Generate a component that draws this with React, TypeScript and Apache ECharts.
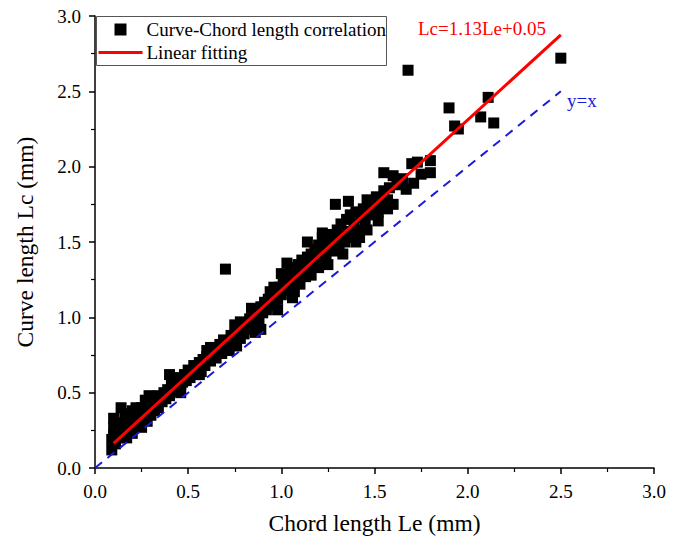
import React, { useEffect, useRef } from "react";
import * as echarts from "echarts";

const scatterPoints: [number, number][] = [
  [0.09,0.12],[0.09,0.19],[0.10,0.22],[0.10,0.27],[0.10,0.33],[0.11,0.16],[0.12,0.24],[0.13,0.20],[0.14,0.29],[0.14,0.40],
  [0.15,0.22],[0.16,0.33],[0.16,0.27],[0.17,0.20],[0.18,0.36],[0.18,0.30],[0.19,0.25],[0.20,0.38],[0.20,0.23],[0.21,0.31],
  [0.22,0.28],[0.23,0.35],[0.24,0.30],[0.25,0.40],[0.25,0.27],[0.26,0.34],[0.27,0.45],[0.28,0.38],[0.28,0.31],[0.29,0.48],
  [0.30,0.42],[0.30,0.35],[0.31,0.46],[0.32,0.38],[0.33,0.43],[0.34,0.40],[0.35,0.47],[0.36,0.44],[0.37,0.50],[0.38,0.46],
  [0.39,0.52],[0.40,0.62],[0.40,0.48],[0.41,0.55],[0.42,0.51],[0.43,0.58],[0.44,0.53],[0.45,0.60],[0.46,0.55],[0.47,0.57],
  [0.48,0.62],[0.49,0.58],[0.50,0.65],[0.51,0.60],[0.52,0.63],[0.53,0.68],[0.54,0.62],[0.55,0.66],[0.56,0.70],[0.57,0.64],
  [0.58,0.72],[0.59,0.68],[0.60,0.74],[0.60,0.78],[0.61,0.77],[0.62,0.71],[0.63,0.75],[0.64,0.80],[0.65,0.73],[0.66,0.78],
  [0.67,0.82],[0.68,0.76],[0.69,0.85],[0.70,0.80],[0.70,1.32],[0.71,0.84],[0.72,0.78],[0.73,0.88],[0.74,0.83],[0.75,0.95],
  [0.75,0.87],[0.76,0.81],[0.77,0.90],[0.78,0.86],[0.79,0.93],[0.80,0.89],[0.81,0.96],[0.82,0.92],[0.83,0.99],[0.84,1.06],
  [0.84,0.94],[0.85,1.00],[0.86,0.97],[0.87,1.03],[0.88,0.99],[0.89,1.07],[0.89,0.92],[0.90,1.03],[0.91,1.10],[0.92,1.05],
  [0.93,1.12],[0.94,1.17],[0.94,1.08],[0.95,1.14],[0.96,1.10],[0.97,1.18],[0.98,1.12],[0.98,1.05],[0.99,1.20],[1.00,1.29],
  [1.00,1.15],[1.01,1.22],[1.02,1.18],[1.03,1.36],[1.03,1.25],[1.04,1.20],[1.05,1.30],[1.06,1.24],[1.07,1.17],[1.07,1.33],
  [1.08,1.27],[1.09,1.35],[1.10,1.22],[1.10,1.30],[1.11,1.38],[1.12,1.33],[1.13,1.27],[1.14,1.50],[1.14,1.40],[1.15,1.34],
  [1.16,1.42],[1.17,1.37],[1.18,1.45],[1.19,1.40],[1.20,1.33],[1.20,1.48],[1.21,1.43],[1.22,1.56],[1.23,1.46],[1.24,1.40],
  [1.25,1.52],[1.25,1.35],[1.26,1.48],[1.27,1.55],[1.28,1.44],[1.29,1.75],[1.29,1.52],[1.30,1.58],[1.31,1.47],[1.32,1.62],
  [1.33,1.54],[1.34,1.50],[1.35,1.65],[1.36,1.77],[1.36,1.57],[1.37,1.68],[1.38,1.53],[1.39,1.62],[1.40,1.70],[1.41,1.58],
  [1.42,1.53],[1.43,1.66],[1.44,1.72],[1.45,1.62],[1.46,1.78],[1.47,1.68],[1.48,1.74],[1.50,1.70],[1.51,1.80],[1.52,1.64],
  [1.53,1.76],[1.55,1.96],[1.55,1.84],[1.57,1.78],[1.58,1.86],[1.60,1.94],[1.60,1.75],[1.62,1.88],[1.65,1.92],[1.67,1.85],
  [1.68,2.64],[1.70,2.02],[1.71,1.89],[1.73,2.03],[1.75,1.95],[1.80,2.04],[1.80,1.96],
  [1.90,2.39],[1.93,2.27],[1.95,2.25],[2.07,2.33],[2.11,2.46],[2.14,2.29],[2.50,2.72],
  [0.12,0.30],[0.22,0.40],[0.34,0.48],[0.46,0.50],[0.56,0.62],[0.62,0.80],[0.78,0.97],[0.86,0.90],[0.96,1.20],
  [1.06,1.13],[1.16,1.28],[1.22,1.53],[1.33,1.42],[1.40,1.50],[1.46,1.58],[1.52,1.70],[1.57,1.72]
];

const fitLine: [number, number][] = [[0.1, 0.163], [2.5, 2.875]];
const identityLine: [number, number][] = [[0, 0], [2.5, 2.5]];
const axisTicks = [0, 0.5, 1.0, 1.5, 2.0, 2.5, 3.0];

const seriesNames = ["Curve-Chord length correlation", "Linear fitting"];
const fitLabel = "Lc=1.13Le+0.05";
const identityLabel = "y=x";
const xTitle = "Chord length Le (mm)";
const yTitle = "Curve length Lc (mm)";

const FONT = "Liberation Serif";

export default function App() {
  const ref = useRef<HTMLDivElement>(null);
  useEffect(() => {
    if (!ref.current) return;
    const chart = echarts.init(ref.current, null, { renderer: "svg" });
    const labelStyle = {
      fontFamily: FONT,
      fontSize: 19,
      color: "#000",
      margin: 14,
      formatter: (v: number) => v.toFixed(1),
    };
    const axisCommon = {
      type: "value" as const,
      min: axisTicks[0],
      max: axisTicks[axisTicks.length - 1],
      interval: 0.5,
      nameLocation: "middle" as const,
      nameTextStyle: { fontFamily: FONT, fontSize: 23.5, color: "#000" },
      axisLine: { show: true, onZero: false, lineStyle: { color: "#000", width: 1.5 } },
      axisTick: { show: true, inside: false, length: 6, lineStyle: { color: "#000", width: 1.5 } },
      minorTick: { show: true, splitNumber: 2, length: 4, lineStyle: { color: "#000", width: 1.2 } },
      splitLine: { show: false },
    };
    chart.setOption({
      animation: false,
      backgroundColor: "#fff",
      textStyle: { fontFamily: FONT },
      grid: { left: 95, right: 32, top: 16, bottom: 75 },
      xAxis: { ...axisCommon, name: xTitle, nameGap: 43, axisLabel: { ...labelStyle } },
      yAxis: { ...axisCommon, name: yTitle, nameGap: 58, axisLabel: { ...labelStyle } },
      series: [
        {
          name: seriesNames[0],
          type: "scatter",
          symbol: "rect",
          symbolSize: 11,
          itemStyle: { color: "#000", opacity: 1 },
          data: scatterPoints,
          z: 2,
        },
        {
          name: "y=x",
          type: "line",
          symbol: "none",
          lineStyle: { color: "#1a1adc", width: 2, type: [9, 7] },
          data: identityLine,
          z: 3,
        },
        {
          name: seriesNames[1],
          type: "line",
          symbol: "none",
          lineStyle: { color: "#ff0000", width: 3 },
          data: fitLine,
          z: 4,
        },
      ],
      graphic: [
        {
          type: "group",
          left: 96,
          top: 16,
          children: [
            { type: "rect", shape: { x: 0, y: 0, width: 290, height: 49 }, style: { fill: "#fff", stroke: "#555", lineWidth: 1 } },
            { type: "rect", shape: { x: 18, y: 7, width: 12, height: 12 }, style: { fill: "#000" } },
            { type: "line", shape: { x1: 2, y1: 36, x2: 46, y2: 36 }, style: { stroke: "#ff0000", lineWidth: 3 } },
            { type: "text", x: 50, y: 13, style: { text: seriesNames[0], fontFamily: FONT, fontSize: 19, fill: "#000", verticalAlign: "middle" } },
            { type: "text", x: 50, y: 36, style: { text: seriesNames[1], fontFamily: FONT, fontSize: 19, fill: "#000", verticalAlign: "middle" } },
          ],
        },
        { type: "text", left: 418, top: 19, style: { text: fitLabel, fontFamily: FONT, fontSize: 19, fill: "#ff0000" } },
        { type: "text", left: 567, top: 91, style: { text: identityLabel, fontFamily: FONT, fontSize: 19, fill: "#1a1adc" } },
      ],
    });
    return () => chart.dispose();
  }, []);
  return <div ref={ref} style={{ position: "fixed", left: 0, top: 0, width: 686, height: 543 }} />;
}
